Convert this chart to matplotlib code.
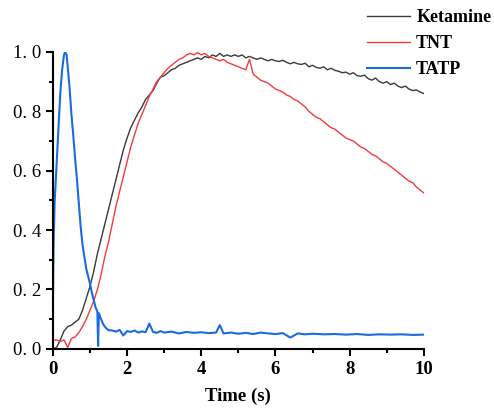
import numpy as np
import matplotlib.pyplot as plt
from matplotlib.ticker import MultipleLocator

# time axis for Ketamine and TNT (0.1 s steps)
t = np.round(np.arange(0, 10.01, 0.1), 2)

ketamine = [0.00, 0.005, 0.03, 0.06, 0.075, 0.08, 0.09, 0.10, 0.13, 0.17,
            0.21, 0.26, 0.32, 0.37, 0.42, 0.47, 0.52, 0.57, 0.62, 0.67,
            0.71, 0.745, 0.77, 0.795, 0.815, 0.84, 0.855, 0.87, 0.895, 0.915,
            0.92, 0.93, 0.94, 0.945, 0.955, 0.96, 0.965, 0.97, 0.975, 0.98,
            0.975, 0.985, 0.98, 0.99, 0.985, 0.995, 0.985, 0.99, 0.985, 0.99,
            0.985, 0.99, 0.98, 0.985, 0.98, 0.975, 0.98, 0.975, 0.97, 0.975,
            0.97, 0.968, 0.972, 0.965, 0.96, 0.965, 0.96, 0.958, 0.962, 0.95,
            0.955, 0.948, 0.945, 0.95, 0.94, 0.945, 0.938, 0.935, 0.93, 0.932,
            0.925, 0.93, 0.92, 0.918, 0.922, 0.91, 0.905, 0.912, 0.90, 0.895,
            0.90, 0.89, 0.895, 0.885, 0.88, 0.885, 0.875, 0.87, 0.872, 0.865,
            0.86]

tnt = [0.03, 0.03, 0.025, 0.03, 0.005, 0.035, 0.04, 0.055, 0.075, 0.10,
       0.13, 0.16, 0.20, 0.25, 0.31, 0.36, 0.42, 0.48, 0.53, 0.58,
       0.63, 0.68, 0.72, 0.76, 0.79, 0.82, 0.85, 0.875, 0.90, 0.915,
       0.93, 0.945, 0.955, 0.965, 0.975, 0.98, 0.99, 0.995, 0.99, 0.998,
       0.99, 0.995, 0.985, 0.98, 0.975, 0.97, 0.975, 0.965, 0.96, 0.955,
       0.95, 0.945, 0.94, 0.975, 0.925, 0.915, 0.905, 0.90, 0.895, 0.885,
       0.875, 0.87, 0.865, 0.855, 0.85, 0.84, 0.835, 0.825, 0.815, 0.80,
       0.79, 0.78, 0.775, 0.765, 0.755, 0.745, 0.74, 0.73, 0.72, 0.71,
       0.705, 0.70, 0.69, 0.68, 0.675, 0.665, 0.655, 0.65, 0.64, 0.63,
       0.625, 0.615, 0.605, 0.595, 0.585, 0.575, 0.565, 0.56, 0.545, 0.535,
       0.525]

# TATP has its own time points (finer around the peak)
t_tatp = [0.00, 0.02, 0.05, 0.10, 0.15, 0.20, 0.25, 0.30, 0.33, 0.37,
          0.40, 0.45, 0.50, 0.55, 0.60, 0.65, 0.70, 0.75, 0.80, 0.85,
          0.90, 0.95, 1.00, 1.05, 1.10, 1.15, 1.20, 1.22, 1.24, 1.30,
          1.35, 1.40, 1.45, 1.50, 1.6, 1.7, 1.8, 1.9, 2.0, 2.1,
          2.2, 2.3, 2.4, 2.5, 2.6, 2.7, 2.8, 2.9, 3.0, 3.2,
          3.4, 3.6, 3.8, 4.0, 4.2, 4.4, 4.5, 4.6, 4.8, 5.0,
          5.2, 5.4, 5.6, 5.8, 6.0, 6.2, 6.4, 6.6, 6.8, 7.0,
          7.3, 7.6, 7.9, 8.2, 8.5, 8.8, 9.1, 9.4, 9.7, 10.0]
tatp = [0.12, 0.36, 0.50, 0.62, 0.74, 0.86, 0.94, 0.99, 1.00, 0.99,
        0.95, 0.88, 0.79, 0.72, 0.64, 0.57, 0.49, 0.41, 0.35, 0.31,
        0.27, 0.245, 0.22, 0.19, 0.165, 0.14, 0.125, 0.01, 0.12, 0.10,
        0.085, 0.075, 0.068, 0.063, 0.062, 0.058, 0.064, 0.045, 0.06, 0.057,
        0.062, 0.055, 0.059, 0.056, 0.085, 0.057, 0.054, 0.06, 0.055, 0.058,
        0.052, 0.057, 0.054, 0.056, 0.053, 0.055, 0.08, 0.052, 0.055, 0.051,
        0.054, 0.05, 0.055, 0.052, 0.05, 0.053, 0.038, 0.052, 0.049, 0.051,
        0.049, 0.05, 0.048, 0.05, 0.047, 0.049, 0.048, 0.049, 0.047, 0.048]

plt.rcParams['font.family'] = 'Liberation Serif'

fig = plt.figure(figsize=(4.94, 4.09), dpi=100)
ax = fig.add_axes([0.107, 0.147, 0.751, 0.726])

ax.plot(t, ketamine, color='#3a3a3a', lw=1.0, label='Ketamine')
ax.plot(t, tnt, color='#f23c3c', lw=1.0, label='TNT')
ax.plot(t_tatp, tatp, color='#1a6be0', lw=1.5, label='TATP')

ax.set_xlim(0, 10)
ax.set_ylim(0, 1.0)
ax.xaxis.set_minor_locator(MultipleLocator(1))
ax.yaxis.set_minor_locator(MultipleLocator(0.1))
ax.set_yticks([0, 0.2, 0.4, 0.6, 0.8, 1.0])
ax.set_yticklabels(['0. 0', '0. 2', '0. 4', '0. 6', '0. 8', '1. 0'], fontsize=13.5)
ax.set_xticks([0, 2, 4, 6, 8, 10])
ax.set_xticklabels(['0', '2', '4', '6', '8', '10'], fontsize=13.5, fontweight='bold')

for s in ['top', 'right']:
    ax.spines[s].set_visible(False)
for s in ['left', 'bottom']:
    ax.spines[s].set_linewidth(1.5)
ax.tick_params(which='major', length=5, width=1.5, direction='out')
ax.tick_params(which='minor', length=3, width=1.5, direction='out')

ax.set_xlabel('Time (s)', fontsize=13.5, fontweight='bold', labelpad=7)

leg = ax.legend(loc='upper left', bbox_to_anchor=(0.826, 1.168), frameon=False,
                prop={'weight': 'bold', 'size': 13}, handlelength=2.4,
                labelspacing=0.5, handletextpad=0.35, borderaxespad=0)

fig.savefig('out.png', dpi=100)
